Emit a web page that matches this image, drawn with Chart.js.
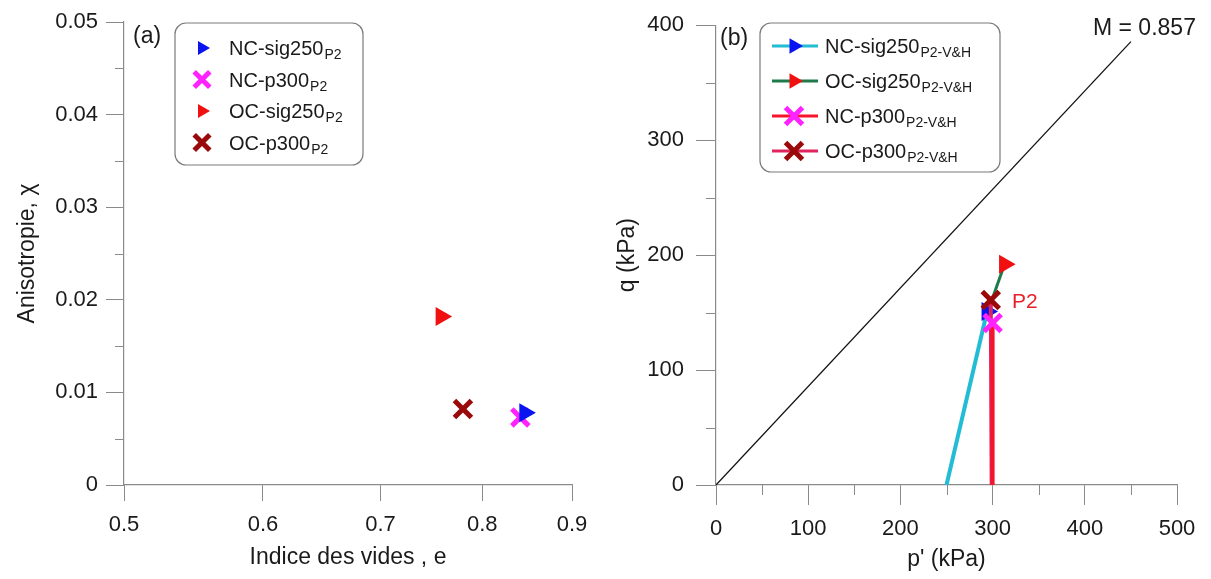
<!DOCTYPE html>
<html>
<head>
<meta charset="utf-8">
<script src="https://cdn.jsdelivr.net/npm/chart.js@4.4.1/dist/chart.umd.min.js"></script>
<style>
  html, body { margin: 0; padding: 0; background: #fff; }
  #wrap { position: relative; width: 1211px; height: 579px; overflow: hidden; }
  #chartA { position: absolute; left: 0; top: 0; }
  #chartB { position: absolute; left: 605px; top: 0; }
</style>
</head>
<body>
<div id="wrap">
  <canvas id="chartA" width="605" height="579"></canvas>
  <canvas id="chartB" width="606" height="579"></canvas>
</div>
<script>
// --- (a) anisotropy vs void ratio
const seriesA = ['NC-sig250', 'NC-p300', 'OC-sig250', 'OC-p300'];
const voidRatio = [0.846, 0.841, 0.758, 0.780];
const anisotropy = [0.0078, 0.0073, 0.0182, 0.0082];
const xTicksA = [0.5, 0.6, 0.7, 0.8, 0.9];
const yTicksA = [0, 0.01, 0.02, 0.03, 0.04, 0.05];
const yMinorA = [0.005, 0.015, 0.025, 0.035, 0.045];

// --- (b) stress paths q vs p'
const seriesB = ['NC-sig250', 'OC-sig250', 'NC-p300', 'OC-p300'];
const ncSigP = [250, 294];
const ncSigQ = [0, 151];
const ocSigP = [297, 313];
const ocSigQ = [156, 192];
const ncP300P = [300, 300];
const ncP300Q = [0, 141];
const ocP300P = [299, 298];
const ocP300Q = [0, 161];
const csP = [0, 450];
const csQ = [0, 385.7];
const xTicksB = [0, 100, 200, 300, 400, 500];
const xMinorB = [50, 150, 250, 350, 450];
const yTicksB = [0, 100, 200, 300, 400];
const yMinorB = [50, 150, 250, 350];

const FONT = "'Liberation Sans', Arial, sans-serif";
const AXIS = '#8a8a8a';
const TXT = '#1a1a1a';

const toXY = (xs, ys) => xs.map((x, i) => ({ x, y: ys[i] }));

// small marker painter used by the legends
function marker(ctx, style, color, x, y, r) {
  ctx.save();
  ctx.fillStyle = color;
  ctx.strokeStyle = color;
  if (style === 'tri') {
    ctx.beginPath();
    ctx.moveTo(x + r, y);
    ctx.lineTo(x - r / 2, y - r * 0.866);
    ctx.lineTo(x - r / 2, y + r * 0.866);
    ctx.closePath();
    ctx.fill();
  } else {
    const d = r * 0.707;
    ctx.lineWidth = 5;
    ctx.beginPath();
    ctx.moveTo(x - d, y - d); ctx.lineTo(x + d, y + d);
    ctx.moveTo(x - d, y + d); ctx.lineTo(x + d, y - d);
    ctx.stroke();
  }
  ctx.restore();
}

function roundBox(ctx, b) {
  ctx.save();
  ctx.strokeStyle = '#7a7a7a';
  ctx.lineWidth = 1.2;
  ctx.fillStyle = '#fff';
  ctx.beginPath();
  ctx.roundRect(b.x, b.y, b.w, b.h, 11);
  ctx.fill();
  ctx.stroke();
  ctx.restore();
}

function subText(ctx, label, sub, x, y, size, subSize) {
  ctx.fillStyle = TXT;
  ctx.textBaseline = 'alphabetic';
  ctx.textAlign = 'left';
  ctx.font = size + 'px ' + FONT;
  ctx.fillText(label, x, y);
  const w = ctx.measureText(label).width;
  ctx.font = subSize + 'px ' + FONT;
  ctx.fillText(sub, x + w + 1, y + 4);
}

// minor ticks + free text + legend, per chart
const extras = {
  id: 'extras',
  afterDraw(chart, args, o) {
    const ctx = chart.ctx;
    const { x, y } = chart.scales;
    ctx.save();
    ctx.strokeStyle = AXIS;
    ctx.lineWidth = 1;
    (o.xMinor || []).forEach(v => {
      const px = Math.round(x.getPixelForValue(v)) + 0.5;
      ctx.beginPath();
      ctx.moveTo(px, y.bottom);
      ctx.lineTo(px, y.bottom + o.minorLen);
      ctx.stroke();
    });
    (o.yMinor || []).forEach(v => {
      const py = Math.round(y.getPixelForValue(v)) + 0.5;
      ctx.beginPath();
      ctx.moveTo(x.left, py);
      ctx.lineTo(x.left - o.minorLen, py);
      ctx.stroke();
    });
    (o.texts || []).forEach(t => {
      ctx.fillStyle = t.color || TXT;
      ctx.font = t.size + 'px ' + FONT;
      ctx.textAlign = 'left';
      ctx.textBaseline = 'alphabetic';
      ctx.fillText(t.text, t.x, t.y);
    });
    const lg = o.legend;
    roundBox(ctx, lg.box);
    lg.items.forEach((it, i) => {
      const cy = lg.rows[i];
      if (it.line) {
        ctx.strokeStyle = it.line;
        ctx.lineWidth = 3;
        ctx.beginPath();
        ctx.moveTo(lg.lineX[0], cy);
        ctx.lineTo(lg.lineX[1], cy);
        ctx.stroke();
      }
      marker(ctx, it.style, it.color, lg.markX, cy, it.style === 'tri' ? lg.triR : lg.crossR);
      subText(ctx, it.label, it.sub, lg.textX, cy + 7, lg.size, lg.subSize);
    });
    ctx.restore();
  }
};

function axisOpts(o) {
  return {
    type: o.type || 'linear',
    min: o.min,
    max: o.max,
    afterBuildTicks: s => { s.ticks = o.ticks.map(v => ({ value: v })); },
    afterFit: s => { if (o.width) s.width = o.width; if (o.height) s.height = o.height; },
    grid: { display: true, drawOnChartArea: false, drawTicks: true, tickLength: o.tickLen, tickColor: AXIS },
    border: { display: true, color: AXIS, width: 1.2 },
    ticks: {
      autoSkip: false, maxRotation: 0, padding: o.pad, color: TXT,
      font: { family: FONT, size: 22 },
      callback: o.fmt
    },
    title: {
      display: true, text: o.title, color: TXT,
      font: { family: FONT, size: 23 },
      padding: o.titlePad
    }
  };
}

const fmtA = v => v === 0 ? '0' : (Math.round(v * 100) / 100).toString();

new Chart(document.getElementById('chartA'), {
  type: 'scatter',
  data: {
    datasets: [
      { label: seriesA[0], data: [{ x: voidRatio[0], y: anisotropy[0] }], pointStyle: 'triangle', rotation: 90,
        pointRadius: 11, backgroundColor: '#0a14f0', borderColor: '#0a14f0', borderWidth: 0, order: 1 },
      { label: seriesA[1], data: [{ x: voidRatio[1], y: anisotropy[1] }], pointStyle: 'crossRot',
        pointRadius: 12, borderColor: '#ff22ff', borderWidth: 5, order: 2 },
      { label: seriesA[2], data: [{ x: voidRatio[2], y: anisotropy[2] }], pointStyle: 'triangle', rotation: 90,
        pointRadius: 11, backgroundColor: '#f01010', borderColor: '#f01010', borderWidth: 0, order: 3 },
      { label: seriesA[3], data: [{ x: voidRatio[3], y: anisotropy[3] }], pointStyle: 'crossRot',
        pointRadius: 12, borderColor: '#9a0a0a', borderWidth: 5, order: 4 }
    ]
  },
  options: {
    responsive: false,
    animation: false,
    layout: { padding: { left: 0, top: 22, right: 33, bottom: 0 } },
    plugins: {
      legend: { display: false },
      tooltip: { enabled: false },
      extras: {
        yMinor: yMinorA, minorLen: 9,
        texts: [{ text: '(a)', x: 133, y: 43, size: 23 }],
        legend: {
          box: { x: 175, y: 23, w: 188, h: 142 },
          rows: [48, 79.5, 111, 142.5],
          markX: 202, textX: 229, triR: 8, crossR: 11, size: 20, subSize: 14,
          items: [
            { label: 'NC-sig250', sub: 'P2', style: 'tri', color: '#0a14f0' },
            { label: 'NC-p300', sub: 'P2', style: 'x', color: '#ff22ff' },
            { label: 'OC-sig250', sub: 'P2', style: 'tri', color: '#f01010' },
            { label: 'OC-p300', sub: 'P2', style: 'x', color: '#9a0a0a' }
          ]
        }
      }
    },
    scales: {
      x: axisOpts({ type: 'logarithmic', min: 0.5, max: 0.9, ticks: xTicksA, tickLen: 16, pad: 11,
        height: 94, fmt: v => (Math.round(v * 10) / 10).toString(),
        title: 'Indice des vides , e', titlePad: { top: 0, bottom: 8 } }),
      y: axisOpts({ min: 0, max: 0.05, ticks: yTicksA, tickLen: 18, pad: 8, width: 124, fmt: fmtA,
        title: 'Anisotropie, \u03c7', titlePad: { top: 14, bottom: 0 } })
    }
  },
  plugins: [extras]
});

const pathSet = (label, xs, ys, lineColor, lw, style, mColor, order) => ({
  label,
  data: toXY(xs, ys),
  showLine: true,
  borderColor: lineColor,
  borderWidth: lw,
  pointStyle: style === 'tri' ? 'triangle' : 'crossRot',
  rotation: style === 'tri' ? 90 : 0,
  pointRadius: xs.map((_, i) => i === xs.length - 1 ? (style === 'tri' ? 11 : 12) : 0),
  pointBackgroundColor: mColor,
  pointBorderColor: mColor,
  pointBorderWidth: style === 'tri' ? 0 : 5,
  order
});

new Chart(document.getElementById('chartB'), {
  type: 'scatter',
  data: {
    datasets: [
      { label: 'M', data: toXY(csP, csQ), showLine: true, borderColor: '#111', borderWidth: 1.3,
        pointRadius: 0, order: 9 },
      pathSet(seriesB[0], ncSigP, ncSigQ, '#22bcd4', 4, 'tri', '#0a14f0', 5),
      pathSet(seriesB[3], ocP300P, ocP300Q, '#e0245e', 4, 'x', '#9a0a0a', 3),
      pathSet(seriesB[2], ncP300P, ncP300Q, '#f5142a', 4, 'x', '#ff22ff', 2),
      pathSet(seriesB[1], ocSigP, ocSigQ, '#1f7a4a', 3, 'tri', '#f01010', 4)
    ]
  },
  options: {
    responsive: false,
    animation: false,
    layout: { padding: { left: 0, top: 22, right: 34, bottom: 0 } },
    plugins: {
      legend: { display: false },
      tooltip: { enabled: false },
      extras: {
        xMinor: xMinorB, yMinor: yMinorB, minorLen: 10,
        texts: [
          { text: '(b)', x: 115, y: 45, size: 23 },
          { text: 'M = 0.857', x: 488, y: 35, size: 23 },
          { text: 'P2', x: 407, y: 308, size: 21, color: '#e8202a' }
        ],
        legend: {
          box: { x: 155, y: 23, w: 240, h: 149 },
          rows: [46, 81, 116, 151],
          lineX: [167, 213], markX: 189, textX: 220, triR: 9, crossR: 12, size: 20, subSize: 14,
          items: [
            { label: 'NC-sig250', sub: 'P2-V&H', style: 'tri', color: '#0a14f0', line: '#22bcd4' },
            { label: 'OC-sig250', sub: 'P2-V&H', style: 'tri', color: '#f01010', line: '#1f7a4a' },
            { label: 'NC-p300', sub: 'P2-V&H', style: 'x', color: '#ff22ff', line: '#f5142a' },
            { label: 'OC-p300', sub: 'P2-V&H', style: 'x', color: '#9a0a0a', line: '#e0245e' }
          ]
        }
      }
    },
    scales: {
      x: axisOpts({ min: 0, max: 500, ticks: xTicksB, tickLen: 20, pad: 11, height: 94,
        fmt: v => v.toString(), title: "p' (kPa)", titlePad: { top: 0, bottom: 6 } }),
      y: axisOpts({ min: 0, max: 400, ticks: yTicksB, tickLen: 20, pad: 12, width: 111,
        fmt: v => v.toString(), title: 'q (kPa)', titlePad: { top: 9, bottom: 0 } })
    }
  },
  plugins: [extras]
});
</script>
</body>
</html>
